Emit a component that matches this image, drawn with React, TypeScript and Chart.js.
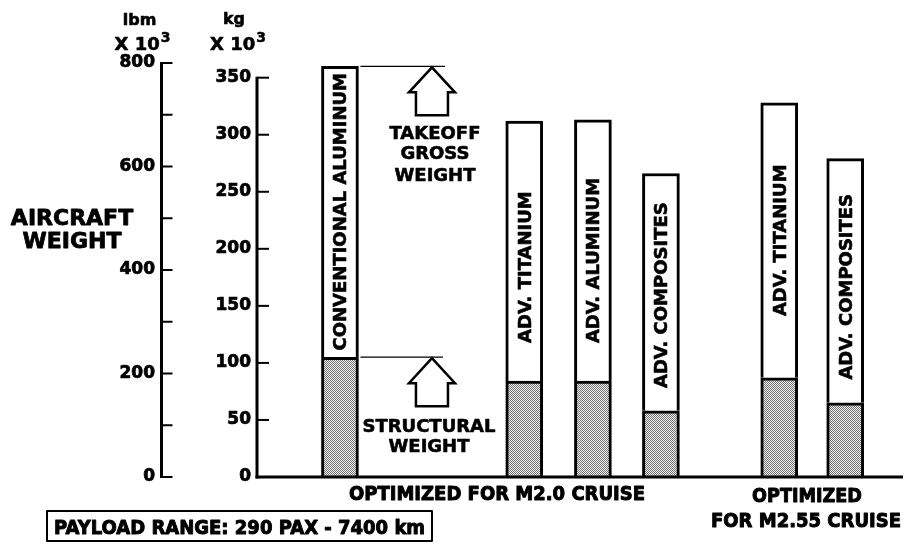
import React, { useEffect, useRef } from 'react';
import { Chart, registerables } from 'chart.js';

Chart.register(...registerables);

// ---------------- data ----------------
const materials = [
  'CONVENTIONAL ALUMINUM',
  'ADV. TITANIUM',
  'ADV. ALUMINUM',
  'ADV. COMPOSITES',
  'ADV. TITANIUM',
  'ADV. COMPOSITES',
];
const cruiseGroup = ['M2.0', 'M2.0', 'M2.0', 'M2.0', 'M2.55', 'M2.55'];
const takeoffGrossWeightKg = [360, 312, 313, 266, 328, 279];
const structuralWeightKg = [105, 84, 84, 58, 87, 65];
const kgTickValues = [0, 50, 100, 150, 200, 250, 300, 350];
const lbmTickValues = [0, 100, 200, 300, 400, 500, 600, 700, 800];
const lbmLabelValues = [0, 200, 400, 600, 800];
const LBM_TO_KG = 0.45359237;

// ---------------- layout ----------------
const SLOT_X = [1.22, 3.93, 4.94, 5.94, 7.68, 8.65];
const X_MAX = 9.5;
const LABEL_SHIFT = [0, 16, 10, 3, 0, 6];
const INK = '#000';
const FONT = '"DejaVu Sans", "Liberation Sans", sans-serif';

function makeStipple(): CanvasPattern | string {
  const c = document.createElement('canvas');
  c.width = 2;
  c.height = 2;
  const g = c.getContext('2d');
  if (!g) return '#b0b0b0';
  g.fillStyle = '#f4f4f4';
  g.fillRect(0, 0, 2, 2);
  g.fillStyle = '#707070';
  g.fillRect(0, 0, 1, 1);
  g.fillRect(1, 1, 1, 1);
  return g.createPattern(c, 'repeat') || '#b0b0b0';
}

function heavyText(ctx: CanvasRenderingContext2D, text: string, x: number, y: number, weight = 0.7) {
  ctx.fillText(text, x, y);
  ctx.lineWidth = weight;
  ctx.lineJoin = 'round';
  ctx.strokeText(text, x, y);
}

function condensedText(ctx: CanvasRenderingContext2D, text: string, cx: number, baseline: number, size: number, sx: number) {
  ctx.save();
  ctx.font = `bold ${size}px ${FONT}`;
  ctx.textAlign = 'center';
  ctx.textBaseline = 'alphabetic';
  ctx.translate(cx, baseline);
  ctx.scale(sx, 1);
  heavyText(ctx, text, 0, 0, 1);
  ctx.restore();
}

function powerLabel(ctx: CanvasRenderingContext2D, cx: number, baseline: number, size: number) {
  const mainFont = `bold ${size}px ${FONT}`;
  const supFont = `bold ${Math.round(size * 0.8)}px ${FONT}`;
  ctx.font = mainFont;
  const w1 = ctx.measureText('X 10').width;
  ctx.font = supFont;
  const w2 = ctx.measureText('3').width;
  const left = cx - (w1 + w2 + 1) / 2;
  ctx.textAlign = 'left';
  ctx.textBaseline = 'alphabetic';
  ctx.font = mainFont;
  heavyText(ctx, 'X 10', left, baseline, 0.6);
  ctx.font = supFont;
  heavyText(ctx, '3', left + w1 + 1, baseline - size * 0.42, 0.5);
}

function upArrow(ctx: CanvasRenderingContext2D, tx: number, ty: number) {
  ctx.beginPath();
  ctx.moveTo(tx, ty);
  ctx.lineTo(tx - 23, ty + 25);
  ctx.lineTo(tx - 16, ty + 25);
  ctx.lineTo(tx - 16, ty + 48);
  ctx.lineTo(tx + 16, ty + 48);
  ctx.lineTo(tx + 16, ty + 25);
  ctx.lineTo(tx + 23, ty + 25);
  ctx.closePath();
  ctx.lineJoin = 'miter';
  ctx.lineWidth = 2.5;
  ctx.stroke();
}

const overlayPlugin = {
  id: 'figureOverlay',
  afterDatasetsDraw(chart: any) {
    const { ctx, chartArea, scales } = chart;
    const yk = scales.y;
    const yl = scales.y2;
    const line = (x1: number, y1: number, x2: number, y2: number) => {
      ctx.beginPath();
      ctx.moveTo(x1, y1);
      ctx.lineTo(x2, y2);
      ctx.stroke();
    };
    ctx.save();
    ctx.strokeStyle = INK;
    ctx.fillStyle = INK;
    ctx.lineCap = 'butt';

    // baseline
    const by = chartArea.bottom;
    ctx.lineWidth = 3;
    line(chartArea.left - 1.5, by, chartArea.right, by);

    // kg axis
    const kx = chartArea.left;
    line(kx, yk.getPixelForValue(kgTickValues[kgTickValues.length - 1]) - 1, kx, by + 1.5);
    ctx.lineWidth = 2;
    kgTickValues.forEach((v) => {
      const p = yk.getPixelForValue(v);
      line(kx, p, kx + 12, p);
    });

    // lbm axis
    const lx = yl.right + 0.5;
    ctx.lineWidth = 3;
    line(lx, yl.getPixelForValue(lbmTickValues[lbmTickValues.length - 1]) - 1, lx, yl.getPixelForValue(0) + 1);
    ctx.lineWidth = 2;
    lbmTickValues.forEach((v) => {
      const p = yl.getPixelForValue(v);
      line(lx, p, lx + 11, p);
    });

    // unit labels
    ctx.textAlign = 'center';
    ctx.textBaseline = 'alphabetic';
    ctx.font = `bold 16px ${FONT}`;
    heavyText(ctx, 'lbm', lx - 22, 25, 0.6);
    heavyText(ctx, 'kg', kx - 23, 24, 0.6);
    powerLabel(ctx, lx - 19, 50, 18);
    powerLabel(ctx, kx - 19, 50, 18);

    // axis title
    ctx.font = `bold 22px ${FONT}`;
    ctx.textAlign = 'center';
    heavyText(ctx, 'AIRCRAFT', 72, 225, 0.8);
    heavyText(ctx, 'WEIGHT', 72, 248, 0.8);

    // bar labels (rotated)
    const metaTop = chart.getDatasetMeta(1);
    ctx.font = `bold 18px ${FONT}`;
    materials.forEach((label, i) => {
      const el = metaTop.data[i];
      if (!el) return;
      const cy = (el.y + el.base) / 2 + LABEL_SHIFT[i];
      ctx.save();
      ctx.translate(el.x, cy);
      ctx.rotate(-Math.PI / 2);
      ctx.textAlign = 'center';
      ctx.textBaseline = 'alphabetic';
      heavyText(ctx, label, 0, 6.5, 0.6);
      ctx.restore();
    });

    // annotations tied to the conventional aluminum bar
    const metaBottom = chart.getDatasetMeta(0);
    const ref = metaTop.data[0];
    const refS = metaBottom.data[0];
    if (ref && refS) {
      const barRight = ref.x + 18.5;
      const tipX = ref.x + 92;
      // takeoff gross weight
      ctx.lineWidth = 1.2;
      line(barRight + 2, ref.y, tipX + 13, ref.y);
      upArrow(ctx, tipX, ref.y + 1);
      ctx.font = `bold 18px ${FONT}`;
      ctx.textAlign = 'center';
      heavyText(ctx, 'TAKEOFF', tipX + 3, ref.y + 73, 0.6);
      heavyText(ctx, 'GROSS', tipX + 3, ref.y + 93, 0.6);
      heavyText(ctx, 'WEIGHT', tipX + 3, ref.y + 115, 0.6);
      // structural weight
      ctx.lineWidth = 1.2;
      line(barRight + 2, refS.y, tipX + 11, refS.y);
      upArrow(ctx, tipX, refS.y + 1);
      ctx.font = `bold 18px ${FONT}`;
      heavyText(ctx, 'STRUCTURAL', tipX - 3, refS.y + 75, 0.6);
      heavyText(ctx, 'WEIGHT', tipX - 3, refS.y + 95, 0.6);
    }

    // group captions
    condensedText(ctx, `OPTIMIZED FOR ${cruiseGroup[0]} CRUISE`, 497, 500, 20, 0.9);
    condensedText(ctx, 'OPTIMIZED', 807, 502, 20, 0.88);
    condensedText(ctx, `FOR ${cruiseGroup[5]} CRUISE`, 806, 527, 20, 0.9);

    // payload box
    ctx.lineWidth = 2;
    ctx.strokeRect(47, 511, 385, 30);
    condensedText(ctx, 'PAYLOAD RANGE: 290 PAX - 7400 km', 239.5, 534, 20, 0.9);

    ctx.restore();
  },
};

export default function App() {
  const ref = useRef<HTMLCanvasElement>(null);

  useEffect(() => {
    document.body.style.margin = '0';
    document.body.style.background = '#fff';
    const canvas = ref.current;
    if (!canvas) return;
    const stipple = makeStipple();
    const tickFont = { family: FONT, weight: 'bold' as const, size: 17 };

    const chart = new Chart(canvas, {
      type: 'bar',
      data: {
        datasets: [
          {
            label: 'Structural weight',
            data: SLOT_X.map((x, i) => ({ x, y: structuralWeightKg[i] })) as any,
            backgroundColor: stipple as any,
            borderColor: INK,
            borderWidth: 3,
            borderSkipped: 'start',
            barThickness: 37,
            xAxisID: 'x',
            yAxisID: 'y',
          },
          {
            label: 'Takeoff gross weight',
            data: SLOT_X.map((x, i) => ({ x, y: takeoffGrossWeightKg[i] - structuralWeightKg[i] })) as any,
            backgroundColor: '#fff',
            borderColor: INK,
            borderWidth: 3,
            borderSkipped: 'start',
            barThickness: 37,
            xAxisID: 'x',
            yAxisID: 'y',
          },
        ],
      },
      options: {
        responsive: false,
        animation: false,
        devicePixelRatio: 1,
        layout: { padding: { top: 63, bottom: 68, left: 0, right: 3 } },
        plugins: { legend: { display: false }, tooltip: { enabled: false } },
        scales: {
          x: {
            type: 'linear',
            min: 0,
            max: X_MAX,
            offset: false,
            stacked: true,
            grid: { display: false, drawTicks: false },
            ticks: { display: false },
            border: { display: false },
            afterFit: (s: any) => {
              s.height = 0;
            },
          },
          y: {
            type: 'linear',
            position: 'left',
            weight: 0,
            stacked: true,
            min: 0,
            max: 800 * LBM_TO_KG,
            grid: { display: false, drawTicks: false },
            border: { display: false },
            ticks: { color: INK, font: tickFont, padding: 6, textStrokeColor: INK, textStrokeWidth: 0.7 },
            afterBuildTicks: (s: any) => {
              s.ticks = kgTickValues.map((v) => ({ value: v }));
            },
            afterFit: (s: any) => {
              s.width = 96;
            },
          },
          y2: {
            type: 'linear',
            position: 'left',
            weight: 1,
            min: 0,
            max: 800,
            grid: { display: false, drawTicks: false },
            border: { display: false },
            ticks: { color: INK, font: tickFont, padding: 6, textStrokeColor: INK, textStrokeWidth: 0.7 },
            afterBuildTicks: (s: any) => {
              s.ticks = lbmLabelValues.map((v) => ({ value: v }));
            },
            afterFit: (s: any) => {
              s.width = 161;
            },
          },
        },
      } as any,
      plugins: [overlayPlugin],
    });

    return () => chart.destroy();
  }, []);

  return <canvas ref={ref} width={906} height={545} style={{ display: 'block' }} />;
}
